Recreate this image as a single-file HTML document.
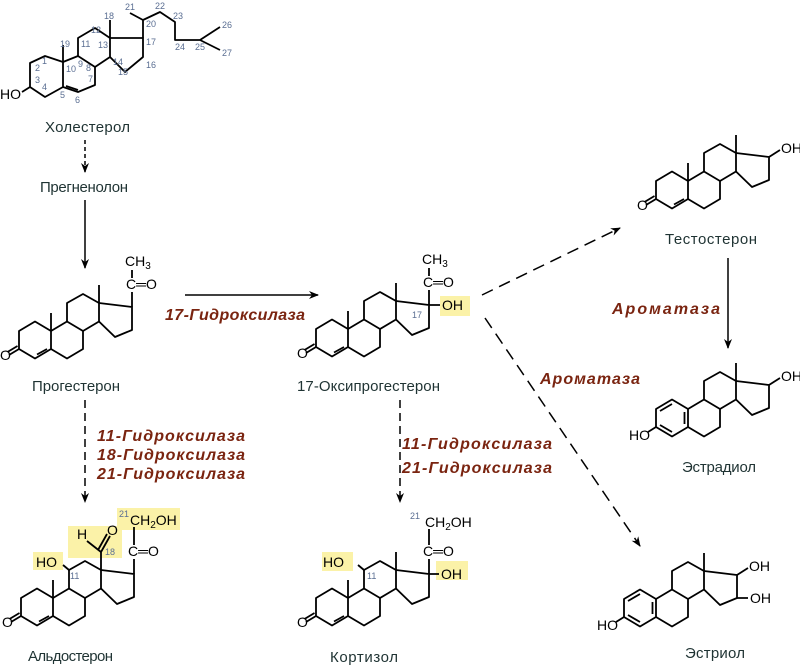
<!DOCTYPE html>
<html><head><meta charset="utf-8"><style>
html,body{margin:0;padding:0;background:#fff}
svg{display:block}
.n{font-family:"Liberation Sans",sans-serif;font-size:15px;fill:#1f3333}
.a{font-family:"Liberation Sans",sans-serif;font-size:14px;fill:#000}
.s{font-family:"Liberation Sans",sans-serif;font-size:9px;fill:#5a6e92}
.e{font-family:"Liberation Sans",sans-serif;font-size:16px;font-weight:bold;font-style:italic;fill:#7a2410}
</style></head><body>
<svg width="800" height="665" viewBox="0 0 800 665" xmlns="http://www.w3.org/2000/svg">
<defs>
<g id="sk" fill="none" stroke="#000" stroke-width="1.8" stroke-linejoin="round">
<path d="M-16,-9 L0,-18.5 L16,-9 L16,9 L0,18.5 L-16,9 Z"/>
<path d="M16,-9 L32,-18.5 L48,-9 L48,9 L32,18.5 L16,9"/>
<path d="M32,-18.5 L32,-37 L48,-46 L64,-37 L64,-18.5 L48,-9"/>
<path d="M64,-37 L97,-33 L97,-10 L80,-3 L64,-18.5"/>
<path d="M64,-37 L64,-55"/>
</g>
<g id="enone" fill="none" stroke="#000" stroke-width="1.8">
<path d="M16,-9 L16,-27"/>
<path d="M12,9 L2,14.5"/>
<path d="M-16,9 L-26,15 M-17.5,6 L-27.5,12"/>
</g>
<g id="arom" fill="none" stroke="#000" stroke-width="1.8">
<path d="M-12,-7 L0,-14 M12.5,-6 L12.5,6 M0,14 L-12,7"/>
<path d="M-16,9 L-24,14"/>
</g>
<marker id="ah" markerWidth="10" markerHeight="10" refX="9" refY="5" orient="auto" markerUnits="userSpaceOnUse">
<path d="M0,1 L10,5 L0,9 L3,5 Z" fill="#000"/>
</marker>
</defs>

<!-- Cholesterol -->
<g fill="none" stroke="#000" stroke-width="1.8" stroke-linejoin="round">
<path d="M30,63 L45,56 L63,62 L63,87 L45,97 L30,87 Z"/>
<path d="M63,62 L78,56 L95,67 L95,85 L78,92 L63,87"/>
<path d="M66,86 L78,90" />
<path d="M78,56 L78,38 L95,28 L110,38 L110,57 L95,67"/>
<path d="M110,38 L143,38 L143,57 L125,72 L110,57"/>
<path d="M63,62 L63,45 M110,38 L110,20"/>
<path d="M143,38 L143,20 L130,13 M143,20 L160,12 L175,22 L175,40 L200,40 L220,27 M200,40 L220,50"/>
<path d="M30,87 L22,92"/>
</g>
<text class="a" x="0" y="99">HO</text>
<g class="s">
<text x="35" y="71">2</text><text x="35" y="83">3</text><text x="42" y="64">1</text><text x="42" y="90">4</text>
<text x="60" y="47">19</text><text x="66" y="72">10</text><text x="60" y="98">5</text><text x="75" y="103">6</text>
<text x="88" y="82">7</text><text x="86" y="71">8</text><text x="78" y="67">9</text><text x="81" y="47">11</text>
<text x="91" y="33">12</text><text x="104" y="19">18</text><text x="98" y="48">13</text><text x="113" y="65">14</text>
<text x="118" y="75">15</text><text x="146" y="68">16</text><text x="146" y="45">17</text><text x="146" y="27">20</text>
<text x="125" y="10">21</text><text x="155" y="9">22</text><text x="173" y="19">23</text><text x="175" y="50">24</text>
<text x="195" y="50">25</text><text x="222" y="28">26</text><text x="222" y="56">27</text>
</g>
<text class="n" x="45" y="132" textLength="85">Холестерол</text>

<text class="n" x="40" y="192" textLength="88">Прегненолон</text>

<!-- Progesterone -->
<g transform="translate(35,340)">
<use href="#sk"/><use href="#enone"/>
<path d="M97,-33 L97,-48 M97,-62 L97,-70" stroke="#000" stroke-width="1.8" fill="none"/>
<text class="a" x="-35" y="20">O</text>
<text class="a" x="91" y="-51">C═O</text>
<text class="a" x="90" y="-74">CH<tspan font-size="10" dy="3">3</tspan></text>
</g>
<text class="n" x="32" y="391" textLength="88">Прогестерон</text>

<!-- 17-OH progesterone -->
<rect x="440" y="296" width="30" height="20" fill="#fbf2a8"/>
<g transform="translate(332,338)">
<use href="#sk"/><use href="#enone"/>
<path d="M97,-33 L97,-48 M97,-62 L97,-70 M97,-33 L108,-33" stroke="#000" stroke-width="1.8" fill="none"/>
<text class="a" x="-35" y="20">O</text>
<text class="a" x="91" y="-51">C═O</text>
<text class="a" x="90" y="-74">CH<tspan font-size="10" dy="3">3</tspan></text>
<text class="a" x="110" y="-28">OH</text>
<text class="s" x="80" y="-20">17</text>
</g>
<text class="n" x="297" y="391" textLength="143">17-Оксипрогестерон</text>

<!-- Testosterone -->
<g transform="translate(672,190)">
<use href="#sk"/><use href="#enone"/>
<path d="M97,-33 L108,-40" stroke="#000" stroke-width="1.8"/>
<text class="a" x="-35" y="20">O</text>
<text class="a" x="109" y="-37">OH</text>
</g>
<text class="n" x="665" y="244" textLength="92">Тестостерон</text>

<!-- Estradiol -->
<g transform="translate(672,418)">
<use href="#sk"/><use href="#arom"/>
<path d="M97,-33 L108,-40" stroke="#000" stroke-width="1.8"/>
<text class="a" x="-43" y="22">HO</text>
<text class="a" x="109" y="-37">OH</text>
</g>
<text class="n" x="682" y="472" textLength="74">Эстрадиол</text>

<!-- Estriol -->
<g transform="translate(640,608)">
<use href="#sk"/><use href="#arom"/>
<path d="M97,-33 L108,-40 M97,-10 L108,-10" stroke="#000" stroke-width="1.8"/>
<text class="a" x="-43" y="22">HO</text>
<text class="a" x="109" y="-37">OH</text>
<text class="a" x="110" y="-5">OH</text>
</g>
<text class="n" x="685" y="658" textLength="60">Эстриол</text>

<!-- Aldosterone -->
<rect x="33" y="552" width="30" height="18" fill="#fbf2a8"/>
<rect x="68" y="526" width="54" height="32" fill="#fbf2a8"/>
<rect x="117" y="508" width="63" height="22" fill="#fbf2a8"/>
<g transform="translate(37,607)">
<g fill="none" stroke="#000" stroke-width="1.8" stroke-linejoin="round">
<path d="M-16,-9 L0,-18.5 L16,-9 L16,9 L0,18.5 L-16,9 Z"/>
<path d="M16,-9 L32,-18.5 L48,-9 L48,9 L32,18.5 L16,9"/>
<path d="M32,-18.5 L32,-37 L48,-46 L64,-37 L64,-18.5 L48,-9"/>
<path d="M64,-37 L97,-33 L97,-10 L80,-3 L64,-18.5"/>
<path d="M16,-9 L16,-27 M12,9 L2,14.5 M-16,9 L-26,15 M-17.5,6 L-27.5,12"/>
<path d="M32,-37 L26,-42"/>
<path d="M64,-37 L64,-55 L50,-66 M64,-55 L73,-71 M61,-57 L70,-73"/>
<path d="M97,-33 L97,-48 M97,-62 L97,-80"/>
</g>
<text class="a" x="-35" y="20">O</text>
<text class="a" x="-1" y="-40">HO</text>
<text class="s" x="33" y="-28">11</text>
<text class="a" x="40" y="-68">H</text>
<text class="a" x="70" y="-72">O</text>
<text class="s" x="68" y="-52">18</text>
<text class="a" x="91" y="-51">C═O</text>
<text class="s" x="82" y="-90">21</text>
<text class="a" x="93" y="-82">CH<tspan font-size="10" dy="3">2</tspan><tspan dy="-3">OH</tspan></text>
</g>
<text class="n" x="28" y="661" textLength="85">Альдостерон</text>

<!-- Cortisol -->
<rect x="322" y="552" width="31" height="19" fill="#fbf2a8"/>
<rect x="436" y="561" width="32" height="19" fill="#fbf2a8"/>
<g transform="translate(332,607)">
<g fill="none" stroke="#000" stroke-width="1.8" stroke-linejoin="round">
<path d="M-16,-9 L0,-18.5 L16,-9 L16,9 L0,18.5 L-16,9 Z"/>
<path d="M16,-9 L32,-18.5 L48,-9 L48,9 L32,18.5 L16,9"/>
<path d="M32,-18.5 L32,-37 L48,-46 L64,-37 L64,-18.5 L48,-9"/>
<path d="M64,-37 L97,-33 L97,-10 L80,-3 L64,-18.5"/>
<path d="M16,-9 L16,-27 M12,9 L2,14.5 M-16,9 L-26,15 M-17.5,6 L-27.5,12"/>
<path d="M64,-37 L64,-55 M32,-37 L26,-42"/>
<path d="M97,-33 L107,-33 M97,-33 L97,-48 M97,-62 L97,-78"/>
</g>
<text class="a" x="-35" y="20">O</text>
<text class="a" x="-9" y="-40">HO</text>
<text class="s" x="35" y="-28">11</text>
<text class="a" x="109" y="-28">OH</text>
<text class="a" x="91" y="-51">C═O</text>
<text class="s" x="78" y="-88">21</text>
<text class="a" x="93" y="-80">CH<tspan font-size="10" dy="3">2</tspan><tspan dy="-3">OH</tspan></text>
</g>
<text class="n" x="330" y="662" textLength="68">Кортизол</text>

<!-- Arrows -->
<g stroke="#000" stroke-width="1.5" fill="none" marker-end="url(#ah)">
<path d="M85,140 L85,172" stroke-dasharray="4,3"/>
<path d="M85,200 L85,268"/>
<path d="M185,295 L318,295"/>
<path d="M482,295 L620,228" stroke-dasharray="12,7"/>
<path d="M728,258 L728,348"/>
<path d="M485,318 L640,546" stroke-dasharray="12,7"/>
<path d="M85,400 L85,502" stroke-dasharray="8,5"/>
<path d="M400,400 L400,502" stroke-dasharray="8,5"/>
</g>

<text class="e" x="165" y="320" textLength="140">17-Гидроксилаза</text>
<text class="e" x="612" y="314" textLength="108">Ароматаза</text>
<text class="e" x="540" y="384" textLength="100">Ароматаза</text>
<text class="e" x="97" y="441" textLength="148">11-Гидроксилаза</text>
<text class="e" x="97" y="460" textLength="148">18-Гидроксилаза</text>
<text class="e" x="97" y="479" textLength="148">21-Гидроксилаза</text>
<text class="e" x="402" y="449" textLength="150">11-Гидроксилаза</text>
<text class="e" x="402" y="473" textLength="150">21-Гидроксилаза</text>
</svg>
</body></html>
